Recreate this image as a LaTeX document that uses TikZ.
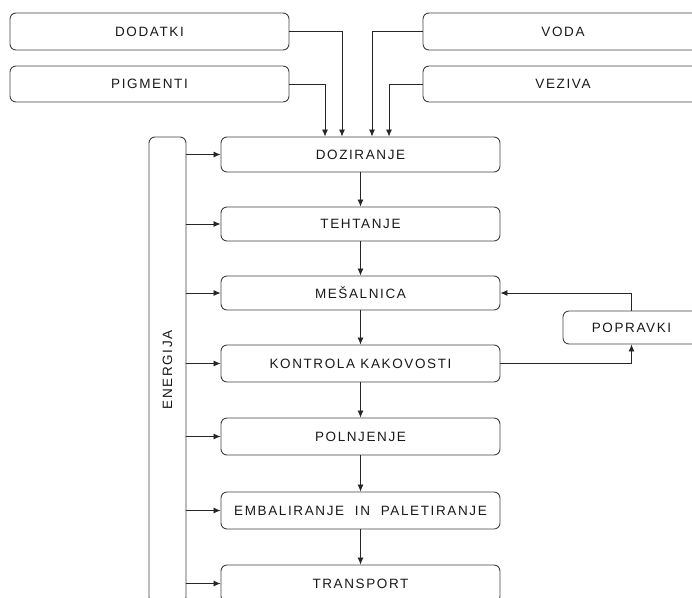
\documentclass[tikz,border=0pt]{standalone}
\usepackage{fontspec}
\setmainfont[LetterSpace=12]{Liberation Sans}
\usetikzlibrary{arrows.meta}
\begin{document}
\begin{tikzpicture}[x=1pt,y=-1pt]
\tikzstyle{every node}+=[inner sep=0pt,font=\fontsize{13.5}{16}\selectfont,text=black!90]
\tikzstyle{box}=[draw=black!75,rounded corners=6pt,line width=0.9pt]
\tikzstyle{flow}=[draw=black!85,line width=0.8pt,-{Latex[length=7pt,width=6pt]}]
\useasboundingbox (0,0) rectangle (692,597);
\node [box,minimum width=279,minimum height=37] (dodatki) at (149.5,31.5) {DODATKI};
\node [box,minimum width=279,minimum height=36] (pigmenti) at (149.5,84) {PIGMENTI};
\node [box,minimum width=280,minimum height=37] (voda) at (563,31.5) {VODA};
\node [box,minimum width=280,minimum height=36] (veziva) at (563,84) {VEZIVA};
\node [box,minimum width=279,minimum height=35] (doziranje) at (360.5,154.5) {DOZIRANJE};
\node [box,minimum width=279,minimum height=34] (tehtanje) at (360.5,224) {TEHTANJE};
\node [box,minimum width=279,minimum height=34] (mesalnica) at (360.5,293) {MEŠALNICA};
\node [box,minimum width=279,minimum height=37] (kontrola) at (360.5,363.5) {KONTROLA KAKOVOSTI};
\node [box,minimum width=279,minimum height=37] (polnjenje) at (360.5,436.5) {POLNJENJE};
\node [box,minimum width=279,minimum height=37] (embal) at (360.5,510.5) {EMBALIRANJE\ \ IN\ \ PALETIRANJE};
\node [box,minimum width=279,minimum height=37] (transport) at (360.5,583.5) {TRANSPORT};
\node [box,minimum width=137,minimum height=33] (popravki) at (631.5,327.5) {POPRAVKI};
\node [box,rotate=90,minimum width=466,minimum height=37] (energija) at (167.5,370) {ENERGIJA};
\draw [flow] (dodatki.east) -| ([xshift=-18.5]doziranje.north);
\draw [flow] (pigmenti.east) -| ([xshift=-35.5]doziranje.north);
\draw [flow] (voda.west) -| ([xshift=11.5]doziranje.north);
\draw [flow] (veziva.west) -| ([xshift=28.5]doziranje.north);
\draw [flow] (doziranje) -- (tehtanje);
\draw [flow] (tehtanje) -- (mesalnica);
\draw [flow] (mesalnica) -- (kontrola);
\draw [flow] (kontrola) -- (polnjenje);
\draw [flow] (polnjenje) -- (embal);
\draw [flow] (embal) -- (transport);
\draw [flow] (kontrola.east) -| (popravki.south);
\draw [flow] (popravki.north) |- (mesalnica.east);
\foreach \n in {doziranje,tehtanje,mesalnica,kontrola,polnjenje,embal,transport}
  \draw [flow] (energija.south |- \n.west) -- (\n.west);
\end{tikzpicture}
\end{document}
